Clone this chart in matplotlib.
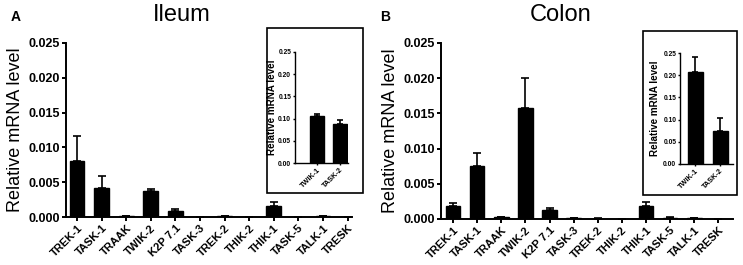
import numpy as np
import matplotlib.pyplot as plt
from matplotlib.patches import Rectangle

genes = ['TREK-1', 'TASK-1', 'TRAAK', 'TWIK-2', 'K2P 7.1', 'TASK-3',
         'TREK-2', 'THIK-2', 'THIK-1', 'TASK-5', 'TALK-1', 'TRESK']
inset_genes = ['TWIK-1', 'TASK-2']

ileum_mean = [0.0081, 0.0042, 0.0001, 0.0037, 0.0009, 0.0,
              0.0001, 0.00005, 0.0016, 0.00005, 0.0001, 0.0]
ileum_err = [0.0035, 0.0017, 0.00005, 0.0003, 0.0002, 0.0,
             0.00005, 0.00002, 0.0005, 0.00002, 0.00012, 0.0]
colon_mean = [0.0018, 0.0075, 0.0002, 0.0158, 0.0012, 0.0001,
              0.00005, 0.00003, 0.0019, 0.0001, 0.0001, 0.0]
colon_err = [0.0004, 0.0019, 0.00005, 0.0042, 0.0003, 0.00005,
             0.00002, 0.00002, 0.0005, 0.0001, 0.00005, 0.0]

ileum_inset_mean = [0.105, 0.087]
ileum_inset_err = [0.005, 0.010]
colon_inset_mean = [0.208, 0.075]
colon_inset_err = [0.032, 0.028]

plt.rcParams['font.family'] = ['Liberation Sans', 'DejaVu Sans']

fig = plt.figure(figsize=(7.43, 2.65), dpi=100)


def style_axes(ax, tick_size, lw, length):
    for s in ['top', 'right']:
        ax.spines[s].set_visible(False)
    for s in ['left', 'bottom']:
        ax.spines[s].set_linewidth(lw)
    ax.tick_params(axis='both', width=lw, length=length, labelsize=tick_size, pad=1.2)
    for lab in ax.get_yticklabels() + ax.get_xticklabels():
        lab.set_fontweight('bold')


def bars(ax, labels, mean, err, capsize=3):
    x = np.arange(len(labels))
    yerr = [np.zeros(len(err)), err]
    ax.bar(x, mean, width=0.6, color='black', edgecolor='black',
           yerr=yerr, capsize=capsize,
           error_kw=dict(ecolor='black', elinewidth=1.2, capthick=1.2))
    ax.set_xticks(x)
    ax.set_xticklabels(labels, rotation=45, ha='right', rotation_mode='anchor')


def panel(rect, labels, mean, err, xlim, title, letter, title_x, letter_x):
    ax = fig.add_axes(rect)
    bars(ax, labels, mean, err)
    ax.set_xlim(*xlim)
    ax.set_ylim(0, 0.025)
    ax.set_yticks([0, 0.005, 0.010, 0.015, 0.020, 0.025])
    ax.set_yticklabels(['0.000', '0.005', '0.010', '0.015', '0.020', '0.025'])
    ax.set_ylabel('Relative mRNA level', fontsize=13, labelpad=3)
    style_axes(ax, 9, 1.4, 3)
    for lab in ax.get_xticklabels():
        lab.set_fontsize(8)
    fig.text(title_x, 0.945, title, fontsize=17, ha='center', va='center')
    fig.text(letter_x, 0.935, letter, fontsize=10, fontweight='bold',
             ha='left', va='center')
    return ax


def inset(rect, box, labels, mean, err, xlim, label_x):
    fig.patches.append(Rectangle((box[0], box[1]), box[2], box[3],
                                 transform=fig.transFigure, fill=False,
                                 edgecolor='black', linewidth=1.2))
    ax = fig.add_axes(rect)
    bars(ax, labels, mean, err, capsize=2.5)
    ax.set_xlim(*xlim)
    ax.set_ylim(0, 0.25)
    ax.set_yticks([0, 0.05, 0.10, 0.15, 0.20, 0.25])
    ax.set_yticklabels(['0.00', '0.05', '0.10', '0.15', '0.20', '0.25'])
    ax.set_ylabel('Relative mRNA level', fontsize=7.1, fontweight='bold')
    ax.yaxis.set_label_coords(label_x, 0.5)
    style_axes(ax, 4.8, 1.0, 1.5)
    for lab in ax.get_xticklabels():
        lab.set_fontsize(5.2)
    return ax


panel([0.0888, 0.181, 0.385, 0.657], genes, ileum_mean, ileum_err,
      (-0.45, 11.18), 'Ileum', 'A', 0.245, 0.014)
panel([0.5935, 0.174, 0.393, 0.664], genes, colon_mean, colon_err,
      (-0.5, 11.6), 'Colon', 'B', 0.755, 0.512)

inset([295 / 743, 1 - 163 / 265, 53 / 743, 111 / 265],
      [267 / 743, 1 - 193 / 265, 96 / 743, 165 / 265],
      inset_genes, ileum_inset_mean, ileum_inset_err, (-0.95, 1.36), -0.335)
inset([680 / 743, 1 - 164 / 265, 53 / 743, 111 / 265],
      [643 / 743, 1 - 195 / 265, 94 / 743, 164 / 265],
      inset_genes, colon_inset_mean, colon_inset_err, (-0.6, 1.52), -0.38)

fig.savefig('out.png', dpi=100)
